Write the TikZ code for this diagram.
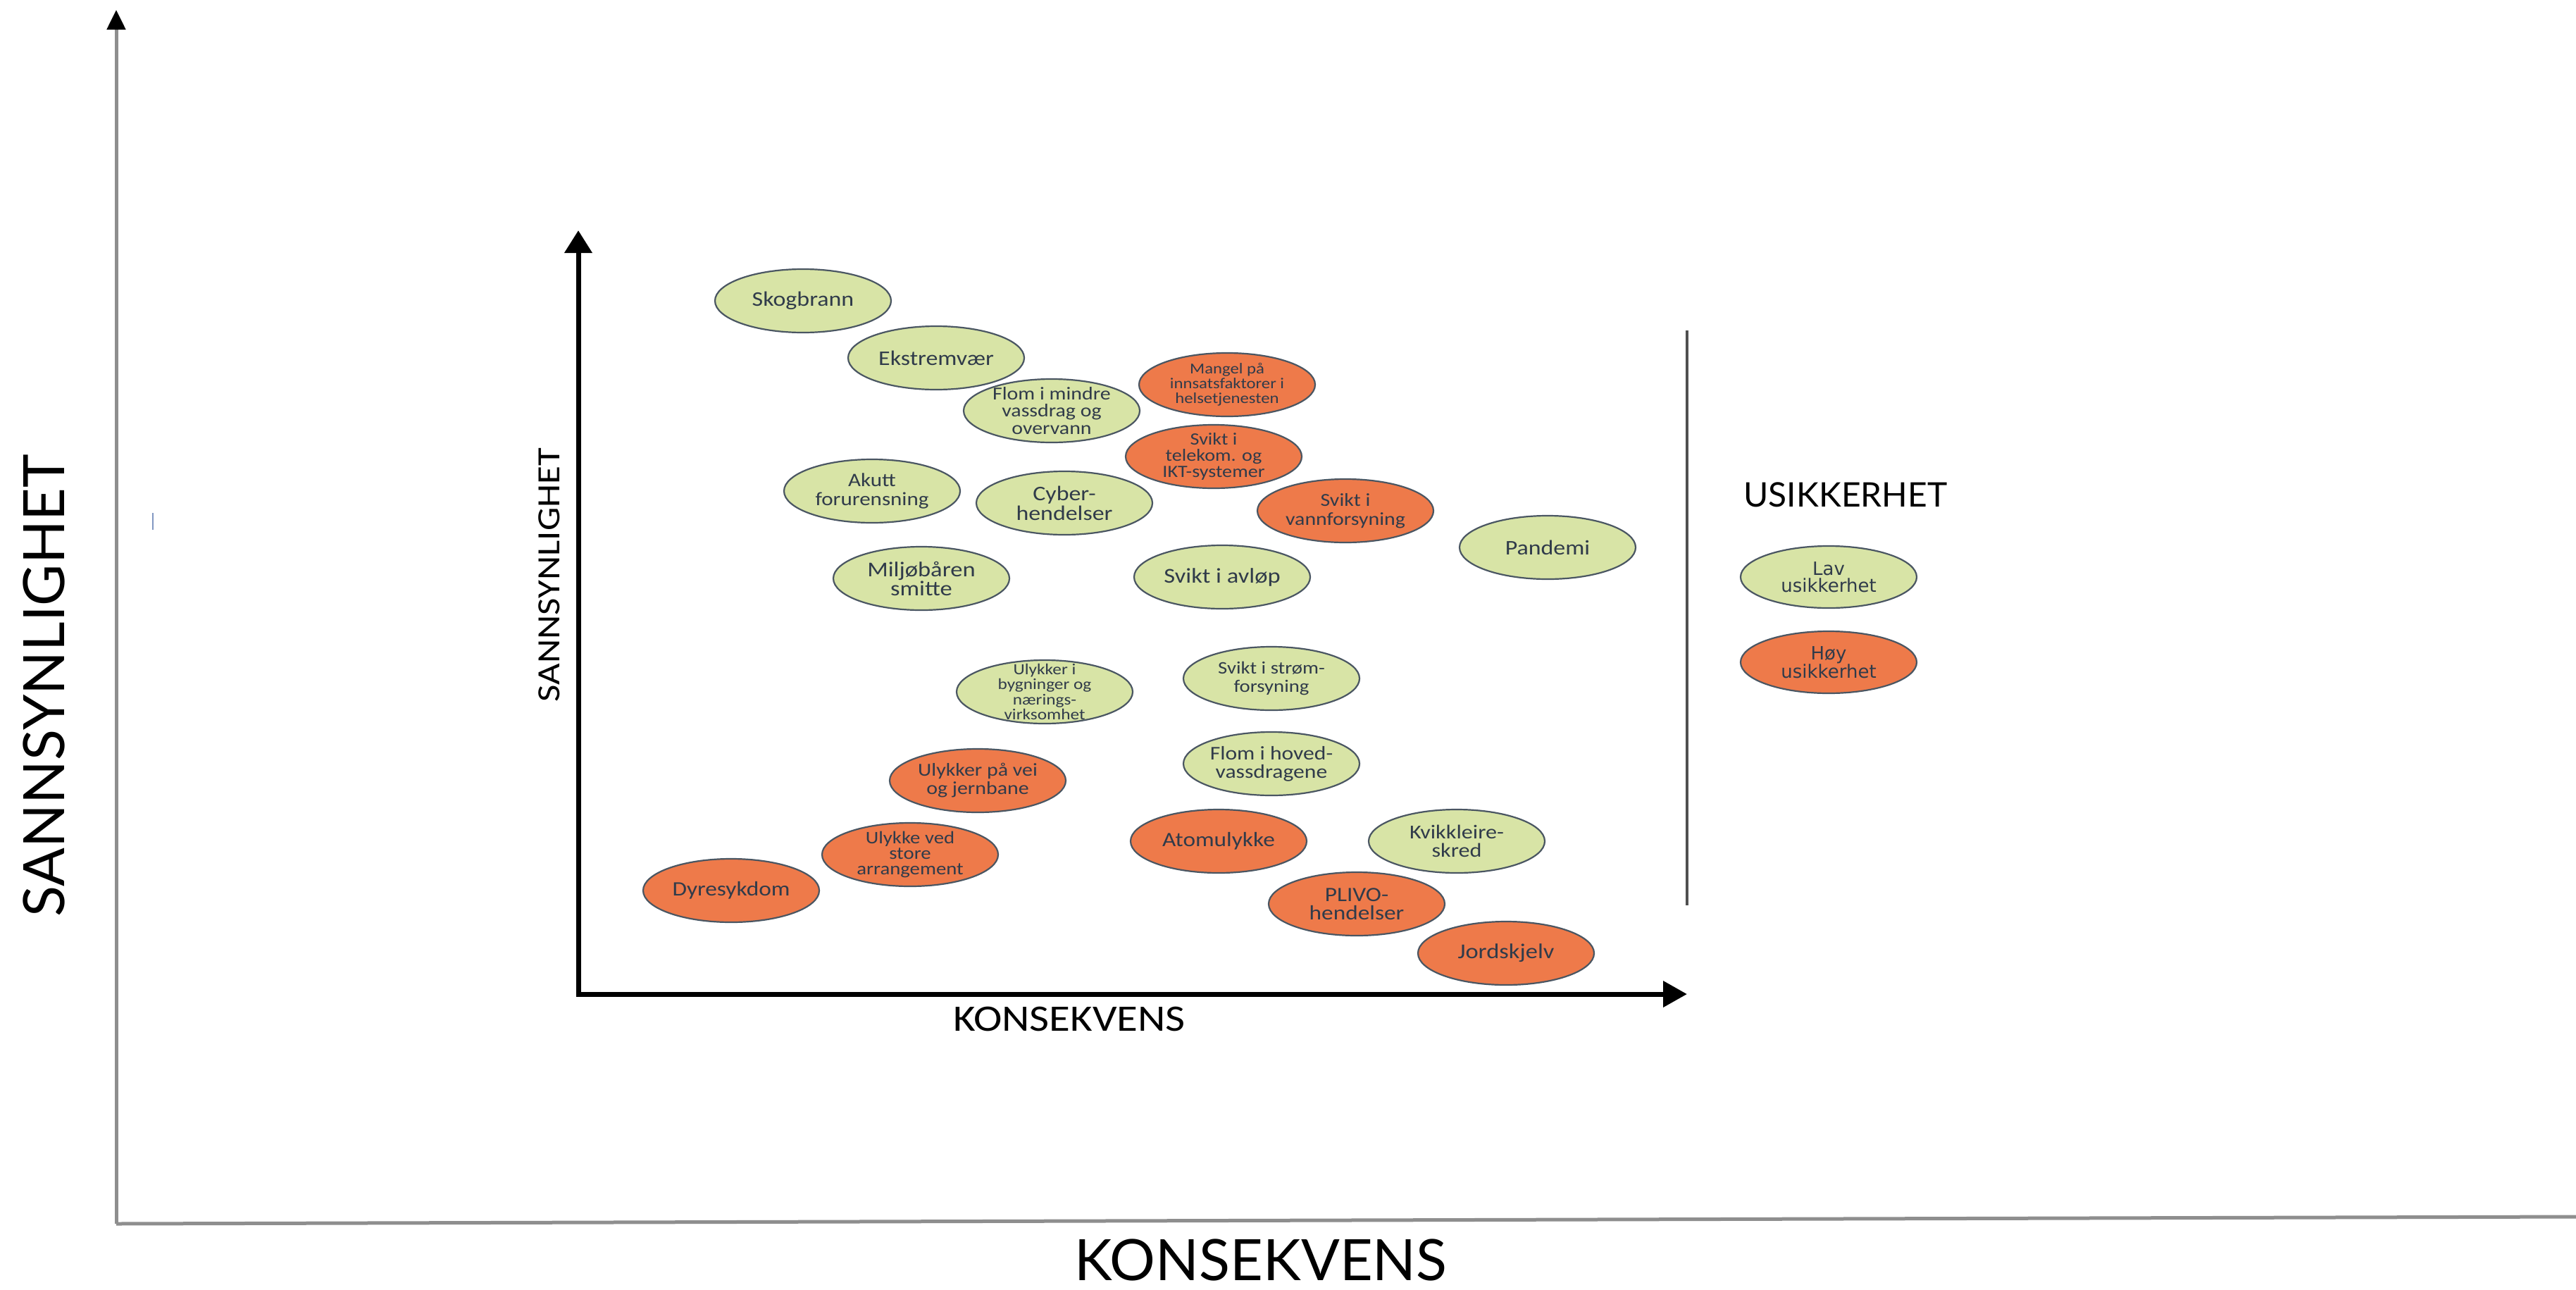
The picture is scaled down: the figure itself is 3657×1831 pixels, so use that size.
\documentclass[tikz,border=0pt]{standalone}
\usepackage{fontspec}
\setmainfont{Carlito}[FakeStretch=1.15]
\newfontfamily\hdrfont{Lato}
\newfontfamily\legfont{DejaVu Sans}
\usetikzlibrary{shapes.geometric,arrows.meta}
\definecolor{greenc}{HTML}{D8E4A6}
\definecolor{orangec}{HTML}{EE7A4A}
\definecolor{edgec}{HTML}{4A5662}
\definecolor{txtc}{HTML}{303B4A}
\definecolor{axgray}{HTML}{8E8E8E}
\definecolor{sepc}{HTML}{505050}
\definecolor{tickc}{HTML}{8197C2}
\newcommand\myfs[2]{\fontsize{#1}{#2}\selectfont}
\newcommand\riskitem[6]{\node[#2, label={[lbl,name=#1t,font=\myfs{#4}{#5}]center:{#6}}] (#1) at (#3) {};}
\tikzset{
  risk/.style={ellipse, draw=edgec, line width=2.2pt, minimum width=250pt, minimum height=90pt, inner sep=0pt},
  lo/.style={risk, fill=greenc},
  hi/.style={risk, fill=orangec},
  leglo/.style={lo, minimum height=88pt},
  leghi/.style={hi, minimum height=88pt},
  lbl/.style={align=center, text=txtc, inner sep=0pt},
  outerax/.style={draw=axgray, line width=5pt},
  innerax/.style={draw=black, line width=7pt},
  seg/.style={draw=sepc, line width=3.5pt},
  biglab/.style={font=\hdrfont\myfs{81}{81}, text=black, inner sep=0pt},
}
\begin{document}
\begin{tikzpicture}[x=1pt,y=-1pt]
\useasboundingbox (0,0) rectangle (3657,1831);
\fill[white] (0,0) rectangle (3657,1831);
% outer axes
\coordinate (oo) at (165,1737);
\coordinate (oy) at (165,14);
\coordinate (ox) at (3657,1727);
\draw[outerax, -{Triangle[width=26pt,length=28pt,color=black]}] (oo) -- (oy);
\draw[outerax] (oo) -- (ox);
\node[biglab, rotate=90] (oylab) at (62,973) {SANNSYNLIGHET};
\node[biglab] (oxlab) at (1790,1788) {KONSEKVENS};
\draw[tickc, line width=2.5pt] (217,728) -- (217,752);
% inner axes
\coordinate (io) at (821,1411);
\coordinate (iy) at (821,327);
\coordinate (ix) at (2395,1411);
\draw[innerax, -{Triangle[width=38pt,length=32pt]}] (io) -- (iy);
\draw[innerax, -{Triangle[width=36pt,length=34pt]}] ([xshift=-3.5pt]io) -- (ix);
\node[rotate=90, font=\myfs{46}{46}, text=black, inner sep=0pt] (iylab) at (780,816) {SANNSYNLIGHET};
\node[font=\myfs{53}{53}, text=black, inner sep=0pt] (ixlab) at (1518,1446) {KONSEKVENS};
% separator
\coordinate (sepT) at (2395,469);
\coordinate (sepB) at (2395,1285);
\draw[seg] (sepT) -- (sepB);
% risk ellipses
\riskitem{skog}{lo}{1140,427}{29.5}{30}{Skogbrann}
\riskitem{ekst}{lo}{1329,508}{29.5}{30}{Ekstremvær}
\riskitem{flomm}{lo}{1493,583}{26}{24.5}{Flom i mindre\\vassdrag og\\overvann}
\riskitem{mangel}{hi}{1742,546}{21.5}{21}{Mangel på\\innsatsfaktorer i\\helsetjenesten}
\riskitem{tele}{hi}{1723,648}{24.5}{23}{Svikt i\\telekom. og\\IKT-systemer}
\riskitem{akutt}{lo}{1238,697}{27}{27}{Akutt\\forurensning}
\riskitem{cyber}{lo}{1511,714}{29.5}{28}{Cyber-\\hendelser}
\riskitem{vann}{hi}{1910,725}{26}{27}{Svikt i\\vannforsyning}
\riskitem{pand}{lo}{2197,777}{29.5}{30}{Pandemi}
\riskitem{milj}{lo}{1308,821}{30}{27}{Miljøbåren\\smitte}
\riskitem{avlop}{lo}{1735,819}{30}{30}{Svikt i avløp}
\riskitem{bygn}{lo}{1483,982}{22}{21.5}{Ulykker i\\bygninger og\\nærings-\\virksomhet}
\riskitem{strom}{lo}{1805,963}{25}{26}{Svikt i strøm-\\forsyning}
\riskitem{flomh}{lo}{1805,1084}{27.5}{26}{Flom i hoved-\\vassdragene}
\riskitem{vei}{hi}{1388,1108}{26}{26}{Ulykker på vei\\og jernbane}
\riskitem{arr}{hi}{1292,1213}{25}{22}{Ulykke ved\\store\\arrangement}
\riskitem{atom}{hi}{1730,1194}{29}{29}{Atomulykke}
\riskitem{kvikk}{lo}{2068,1194}{28}{26}{Kvikkleire-\\skred}
\riskitem{dyr}{hi}{1038,1264}{29}{29}{Dyresykdom}
\riskitem{plivo}{hi}{1926,1283}{29}{26}{PLIVO-\\hendelser}
\riskitem{jord}{hi}{2138,1353}{30}{30}{Jordskjelv}
% legend
\node[font=\hdrfont\myfs{48}{48}, text=black, inner sep=0pt] (leghead) at (2620,702) {USIKKERHET};
\node[leglo, label={[lbl,name=lavt,font=\legfont\myfs{26}{24}]center:{Lav\\usikkerhet}}] (lav) at (2596,819) {};
\node[leghi, label={[lbl,name=hoyt,font=\legfont\myfs{26}{24}]center:{Høy\\usikkerhet}}] (hoy) at (2596,940) {};
\end{tikzpicture}
\end{document}
